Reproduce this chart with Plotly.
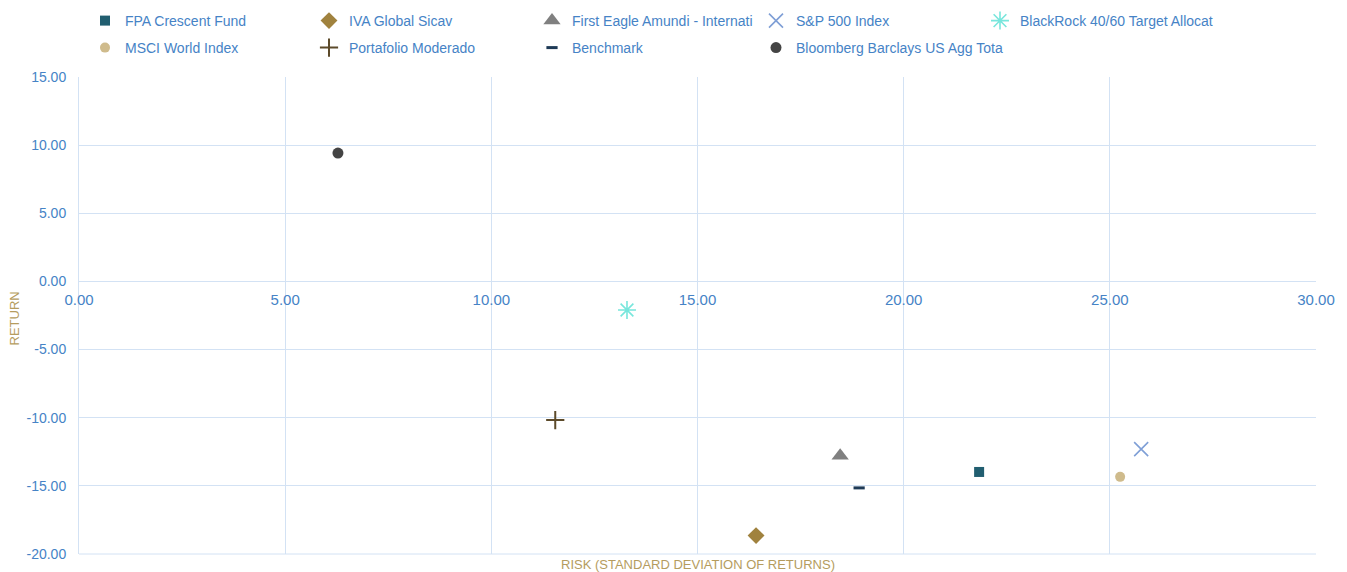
import plotly.graph_objects as go

names = ["FPA Crescent Fund", "IVA Global Sicav", "First Eagle Amundi - Internati",
         "S&P 500 Index", "BlackRock 40/60 Target Allocat", "MSCI World Index",
         "Portafolio Moderado", "Benchmark", "Bloomberg Barclays US Agg Tota"]
risk = [21.83, 16.42, 18.46, 25.76, 13.29, 25.25, 11.55, 18.92, 6.28]
ret = [-13.98, -18.65, -12.80, -12.30, -2.10, -14.34, -10.17, -15.15, 9.42]

x_ticks = [0, 5, 10, 15, 20, 25, 30]
x_ticktext = ["0.00", "5.00", "10.00", "15.00", "20.00", "25.00", "30.00"]
y_ticks = [-20, -15, -10, -5, 0, 5, 10, 15]
y_ticktext = ["-20.00", "-15.00", "-10.00", "-5.00", "0.00", "5.00", "10.00", "15.00"]

colors = ["#215e70", "#a0823e", "#808080", "#7f9fd6", "#78e6dc", "#cfbb8c", "#5c4a2a", "#1e3a56", "#444444"]
symbols = ["square", "diamond", "triangle-up", "x-thin-open", "asterisk-open", "circle",
           "cross-thin-open", "line-ew-open", "circle"]
sizes = [10, 13, 15, 14, 15, 10, 13, 8, 11]
lwidths = [0, 0, 0, 1.6, 1.6, 0, 2, 3, 0]

# legend grid positions (column, row)
leg_cols = [0, 1, 2, 3, 4, 0, 1, 2, 3]
leg_rows = [0, 0, 0, 0, 0, 1, 1, 1, 1]

W, H = 1347, 572
TXT = "#4683c6"
GOLD = "#b59c5e"
fig = go.Figure()
for i, n in enumerate(names):
    lname = "legend" if i == 0 else f"legend{i+1}"
    fig.add_trace(go.Scatter(
        x=[risk[i]], y=[ret[i]], mode="markers", name=n,
        marker=dict(symbol=symbols[i], size=sizes[i], color=colors[i],
                    line=dict(width=lwidths[i], color=colors[i])),
        legend=lname, showlegend=True))

text_x = [125, 349, 572, 796, 1020]
row_y = [21, 48]
layout_legends = {}
for i in range(len(names)):
    lname = "legend" if i == 0 else f"legend{i+1}"
    layout_legends[lname] = dict(
        x=(text_x[leg_cols[i]] - 40) / W, xref="container", xanchor="left",
        y=1 - row_y[leg_rows[i]] / H, yref="container", yanchor="middle",
        bgcolor="rgba(0,0,0,0)", borderwidth=0, itemwidth=30,
        font=dict(family="Liberation Sans, Arial", size=14, color=TXT))

grid = "#d3e2f4"
fig.update_layout(
    width=W, height=H,
    margin=dict(l=79, r=31, t=77, b=18, autoexpand=False),
    plot_bgcolor="white", paper_bgcolor="white",
    font=dict(family="Liberation Sans, Arial", size=14, color=TXT),
    xaxis=dict(range=[0, 30], tickvals=x_ticks, ticktext=x_ticktext, showgrid=True,
               gridcolor=grid, gridwidth=1, zeroline=False, showline=False,
               anchor="free", position=20 / 35, ticks="", ticklabelstandoff=8,
               tickfont=dict(size=15, color=TXT)),
    yaxis=dict(range=[-20, 15], tickvals=y_ticks, ticktext=y_ticktext, showgrid=True,
               gridcolor=grid, gridwidth=1, zeroline=False, showline=True,
               linecolor=grid, linewidth=1, ticks="", ticklabelstandoff=9,
               tickfont=dict(size=14, color=TXT)),
    shapes=[dict(type="line", xref="paper", yref="paper", x0=0, x1=1, y0=0, y1=0,
                 line=dict(color=grid, width=1))],
    annotations=[
        dict(text="RISK (STANDARD DEVIATION OF RETURNS)", x=0.5, xref="paper",
             y=0.0, yref="paper", yanchor="top", yshift=-1, showarrow=False,
             font=dict(size=13, color=GOLD)),
        dict(text="RETURN", textangle=-90, x=0, xref="paper", xanchor="center",
             xshift=-65, y=0.5, yref="paper", yanchor="middle", yshift=-3,
             showarrow=False, font=dict(size=13, color=GOLD)),
    ],
    **layout_legends,
)
fig.write_html("out.html")
